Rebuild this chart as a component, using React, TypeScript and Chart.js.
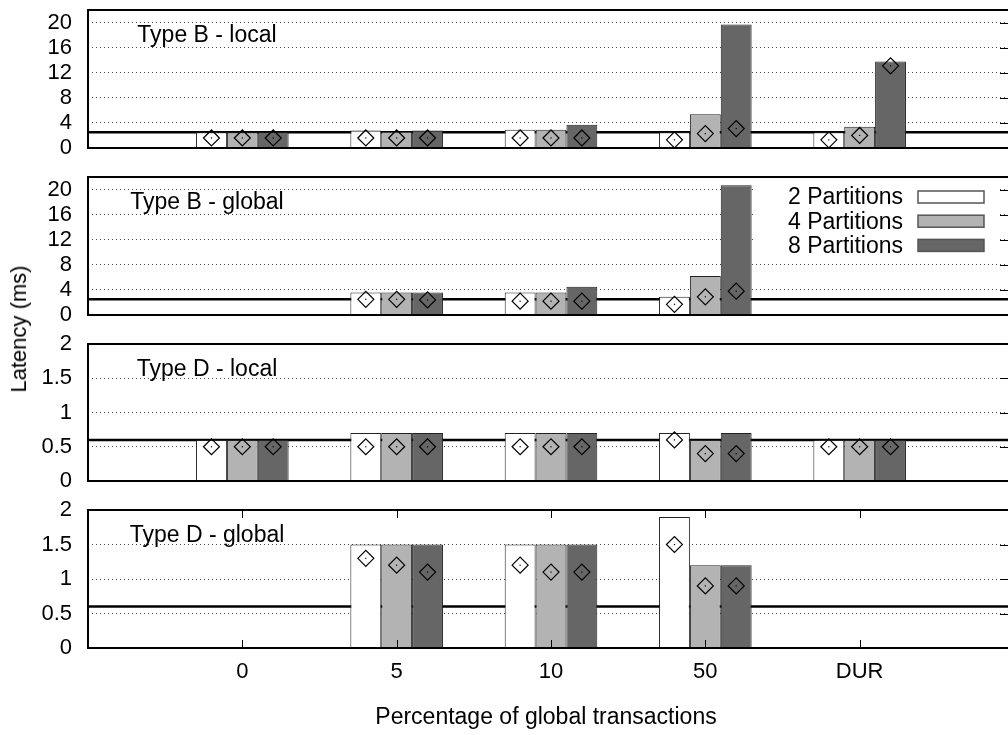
import React, { useEffect, useRef } from 'react';
import { Chart, registerables } from 'chart.js';

Chart.register(...registerables);

const FONT = "'Liberation Sans', Arial, Helvetica, sans-serif";
Chart.defaults.font.family = FONT;
Chart.defaults.color = '#000';

// Workload categories along the x axis
const categories = ['0', '5', '10', '50', 'DUR'];
const seriesLabels = ['2 Partitions', '4 Partitions', '8 Partitions'];
const seriesColors = ['#ffffff', '#b3b3b3', '#666666'];
const xTitle = 'Percentage of global transactions';
const yTitle = 'Latency (ms)';

// Y axis tick values
const yTicksB = [0, 4, 8, 12, 16, 20];
const yTicksD = [0, 0.5, 1, 1.5, 2];

// Horizontal reference levels
const referenceB = 2.5;
const referenceD = 0.6;

// Type B - local: bar heights and diamond marks
const bLocal2 = [2.5, 2.8, 2.9, 2.5, 2.5];
const bLocal4 = [2.5, 2.6, 2.9, 5.4, 3.4];
const bLocal8 = [2.5, 2.8, 3.7, 19.7, 13.8];
const bLocalMark2 = [1.6, 1.6, 1.6, 1.3, 1.3];
const bLocalMark4 = [1.6, 1.6, 1.6, 2.3, 2.0];
const bLocalMark8 = [1.6, 1.6, 1.6, 3.1, 13.1];

// Type B - global
const bGlobal2 = [null, 3.6, 3.6, 2.9, null];
const bGlobal4 = [null, 3.6, 3.6, 6.2, null];
const bGlobal8 = [null, 3.6, 4.5, 20.7, null];
const bGlobalMark2 = [null, 2.5, 2.2, 1.7, null];
const bGlobalMark4 = [null, 2.5, 2.2, 2.9, null];
const bGlobalMark8 = [null, 2.4, 2.2, 3.8, null];

// Type D - local
const dLocal2 = [0.6, 0.7, 0.7, 0.7, 0.6];
const dLocal4 = [0.6, 0.7, 0.7, 0.6, 0.6];
const dLocal8 = [0.6, 0.7, 0.7, 0.7, 0.6];
const dLocalMark2 = [0.5, 0.5, 0.5, 0.6, 0.5];
const dLocalMark4 = [0.5, 0.5, 0.5, 0.4, 0.5];
const dLocalMark8 = [0.5, 0.5, 0.5, 0.4, 0.5];

// Type D - global
const dGlobal2 = [null, 1.5, 1.5, 1.9, null];
const dGlobal4 = [null, 1.5, 1.5, 1.2, null];
const dGlobal8 = [null, 1.5, 1.5, 1.2, null];
const dGlobalMark2 = [null, 1.3, 1.2, 1.5, null];
const dGlobalMark4 = [null, 1.2, 1.1, 0.9, null];
const dGlobalMark8 = [null, 1.1, 1.1, 0.9, null];

type Series = (number | null)[];
type Panel = {
  title: string;
  yMax: number;
  yTicks: number[];
  reference: number;
  bars: Series[];
  marks: Series[];
};

const panels: Panel[] = [
  { title: 'Type B - local', yMax: 22, yTicks: yTicksB, reference: referenceB, bars: [bLocal2, bLocal4, bLocal8], marks: [bLocalMark2, bLocalMark4, bLocalMark8] },
  { title: 'Type B - global', yMax: 22, yTicks: yTicksB, reference: referenceB, bars: [bGlobal2, bGlobal4, bGlobal8], marks: [bGlobalMark2, bGlobalMark4, bGlobalMark8] },
  { title: 'Type D - local', yMax: 2, yTicks: yTicksD, reference: referenceD, bars: [dLocal2, dLocal4, dLocal8], marks: [dLocalMark2, dLocalMark4, dLocalMark8] },
  { title: 'Type D - global', yMax: 2, yTicks: yTicksD, reference: referenceD, bars: [dGlobal2, dGlobal4, dGlobal8], marks: [dGlobalMark2, dGlobalMark4, dGlobalMark8] },
];

// Canvas strip for each panel: position, height and padding around the plot box
const strips = [
  { top: 0, height: 163, padTop: 10, padBottom: 15 },
  { top: 163, height: 167, padTop: 14, padBottom: 15 },
  { top: 330, height: 166, padTop: 14, padBottom: 15 },
  { top: 496, height: 239, padTop: 14, padBottom: 0 },
];

const PLOT_HEIGHT = 138;
const CANVAS_WIDTH = 1014;
const GROUP_WIDTH = 0.6;
const BAR_SHIFT = GROUP_WIDTH / 3;
const TEXT_FONT = `23px ${FONT}`;

function buildConfig(panel: Panel, index: number): any {
  const isLast = index === panels.length - 1;
  const hasLegend = index === 1;
  const strip = strips[index];
  const xTicks = [-1, ...categories.map((_, i) => i), categories.length];

  const datasets: any[] = [];
  panel.bars.forEach((vals, s) => {
    datasets.push({
      type: 'bar',
      label: seriesLabels[s],
      data: vals.map((y, i) => ({ x: i, y })),
      backgroundColor: seriesColors[s],
      borderColor: '#222',
      borderWidth: 1,
      barPercentage: 1,
      categoryPercentage: GROUP_WIDTH,
      order: 5,
    });
  });
  panel.marks.forEach((vals, s) => {
    datasets.push({
      type: 'line',
      label: seriesLabels[s] + ' median',
      isMark: true,
      data: vals.map((y, i) => ({ x: i + (s - 1) * BAR_SHIFT, y })),
      showLine: false,
      pointStyle: 'rectRot',
      pointRadius: 8,
      pointBorderWidth: 1.2,
      pointBorderColor: '#000',
      pointBackgroundColor: 'rgba(0,0,0,0)',
      order: 0,
    });
  });
  datasets.push({
    type: 'line',
    label: 'reference',
    data: [
      { x: -1, y: panel.reference },
      { x: categories.length, y: panel.reference },
    ],
    borderColor: '#000',
    borderWidth: 2.5,
    pointRadius: 0,
    order: 10,
  });

  const decor = {
    id: 'decor' + index,
    afterDatasetsDraw(chart: any) {
      const { ctx, chartArea: a } = chart;
      const yScale = chart.scales.y;
      const xScale = chart.scales.x;
      ctx.save();

      // small dot in the middle of each diamond
      ctx.fillStyle = '#000';
      chart.data.datasets.forEach((ds: any, di: number) => {
        if (!ds.isMark) return;
        chart.getDatasetMeta(di).data.forEach((pt: any) => {
          if (pt.skip || isNaN(pt.y)) return;
          ctx.fillRect(pt.x - 0.6, pt.y - 0.6, 1.2, 1.2);
        });
      });

      // panel title
      ctx.font = TEXT_FONT;
      ctx.textAlign = 'center';
      ctx.textBaseline = 'alphabetic';
      ctx.fillStyle = '#000';
      ctx.fillText(panel.title, a.left + 119, a.top + 32);

      // legend, on a white box to the right of the tallest bar
      if (hasLegend) {
        ctx.fillStyle = '#fff';
        ctx.fillRect(a.right - 259, a.top + 2, 244, 78);
        ctx.font = TEXT_FONT;
        ctx.textAlign = 'right';
        ctx.textBaseline = 'middle';
        seriesLabels.forEach((lbl, s) => {
          const cy = a.top + 20 + 24.2 * s;
          ctx.fillStyle = '#000';
          ctx.fillText(lbl, a.right - 111, cy + 1);
          ctx.fillStyle = seriesColors[s];
          ctx.fillRect(a.right - 96, cy - 6, 66, 12);
          ctx.strokeStyle = '#555';
          ctx.lineWidth = 1.5;
          ctx.strokeRect(a.right - 96, cy - 6, 66, 12);
        });
      }

      // mirrored y ticks on the right side
      ctx.strokeStyle = '#000';
      ctx.lineWidth = 1;
      panel.yTicks.forEach((v) => {
        if (v === 0 || v >= panel.yMax) return;
        const y = Math.round(yScale.getPixelForValue(v)) + 0.5;
        ctx.beginPath();
        ctx.moveTo(a.right - 14, y);
        ctx.lineTo(a.right, y);
        ctx.stroke();
      });

      // x tick marks and axis title on the bottom panel
      if (isLast) {
        categories.forEach((_, i) => {
          const x = Math.round(xScale.getPixelForValue(i)) + 0.5;
          ctx.beginPath();
          ctx.moveTo(x, a.bottom);
          ctx.lineTo(x, a.bottom - 8);
          ctx.moveTo(x, a.top);
          ctx.lineTo(x, a.top + 8);
          ctx.stroke();
        });
        ctx.font = TEXT_FONT;
        ctx.textAlign = 'center';
        ctx.textBaseline = 'middle';
        ctx.fillStyle = '#000';
        ctx.fillText(xTitle, a.left + 458, a.bottom + 70);
      }

      // plot frame
      ctx.strokeStyle = '#000';
      ctx.lineWidth = 2;
      ctx.strokeRect(a.left, a.top, a.right - a.left, a.bottom - a.top);
      ctx.restore();
    },
  };

  return {
    type: 'bar',
    data: { datasets },
    plugins: [decor],
    options: {
      animation: false,
      responsive: false,
      events: [],
      layout: {
        autoPadding: false,
        padding: { top: strip.padTop, bottom: strip.padBottom, left: 0, right: 0 },
      },
      plugins: { legend: { display: false }, tooltip: { enabled: false } },
      scales: {
        x: {
          type: 'linear',
          min: -1,
          max: categories.length,
          offset: false,
          display: isLast,
          grid: { display: false, drawTicks: false, offset: false },
          border: { display: false },
          afterBuildTicks: (s: any) => {
            s.ticks = xTicks.map((v) => ({ value: v }));
          },
          ticks: {
            autoSkip: false,
            maxRotation: 0,
            padding: 11,
            font: { size: 22 },
            callback: (v: number) => categories[v] ?? '',
          },
          afterFit: (s: any) => {
            if (isLast) s.height = strip.height - strip.padTop - PLOT_HEIGHT;
            s.paddingLeft = 0;
            s.paddingRight = 0;
          },
        },
        y: {
          type: 'linear',
          min: 0,
          max: panel.yMax,
          stacked: false,
          afterBuildTicks: (s: any) => {
            s.ticks = panel.yTicks.map((v) => ({ value: v }));
          },
          ticks: { autoSkip: false, padding: 0, font: { size: 22 }, callback: (v: number) => String(v) },
          grid: { color: '#444', lineWidth: 1, drawTicks: true, tickLength: 16, tickColor: 'rgba(0,0,0,0)' },
          border: { display: false, dash: [1, 3] },
          afterFit: (s: any) => {
            s.width = 88;
            s.paddingTop = 0;
            s.paddingBottom = 0;
          },
        },
      },
    },
  };
}

function PanelChart({ index }: { index: number }) {
  const ref = useRef<HTMLCanvasElement | null>(null);
  useEffect(() => {
    if (!ref.current) return;
    const chart = new Chart(ref.current, buildConfig(panels[index], index));
    return () => chart.destroy();
  }, [index]);
  const strip = strips[index];
  return (
    <canvas
      ref={ref}
      width={CANVAS_WIDTH}
      height={strip.height}
      style={{ position: 'absolute', left: 0, top: strip.top, width: CANVAS_WIDTH, height: strip.height }}
    />
  );
}

export default function App() {
  return (
    <div
      style={{
        position: 'fixed',
        left: 0,
        top: 0,
        width: 1008,
        height: 735,
        overflow: 'hidden',
        background: '#fff',
      }}
    >
      {panels.map((_, i) => (
        <PanelChart key={i} index={i} />
      ))}
      <div
        style={{
          position: 'absolute',
          left: 19,
          top: 329,
          transform: 'translate(-50%, -50%) rotate(-90deg)',
          font: `22px ${FONT}`,
          color: '#000',
          whiteSpace: 'nowrap',
        }}
      >
        {yTitle}
      </div>
    </div>
  );
}
